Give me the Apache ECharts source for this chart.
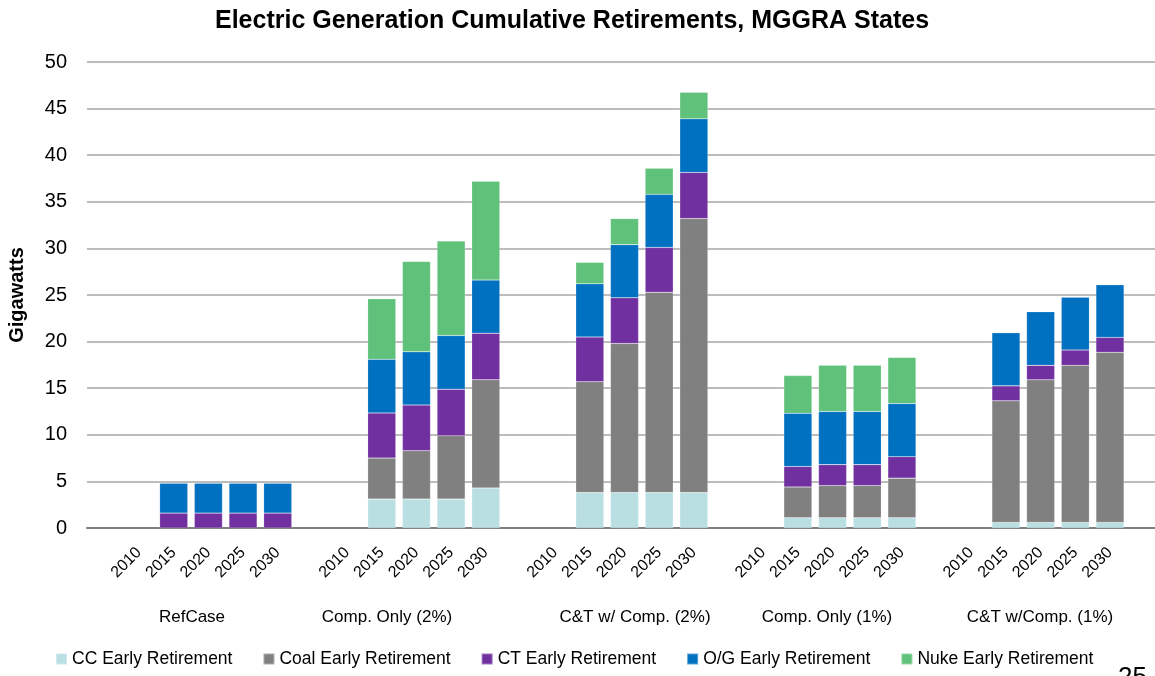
<!DOCTYPE html>
<html>
<head>
<meta charset="utf-8">
<script src="https://cdn.jsdelivr.net/npm/echarts@6/dist/echarts.min.js"></script>
<style>
  html, body { margin: 0; padding: 0; background: #fff; }
  #chart { width: 1155px; height: 676px; }
</style>
</head>
<body>
<div id="chart"></div>
<script>
const years = ['2010', '2015', '2020', '2025', '2030']
const scenarios = ['RefCase', 'Comp. Only (2%)', 'C&T w/ Comp. (2%)', 'Comp. Only (1%)', 'C&T w/Comp. (1%)']
// group label centres (px) as placed on the slide
const scenarioX = [192, 387, 635, 827, 1040]

// values per scenario, years 2010..2030
const cc = [
  [0, 0, 0, 0, 0],
  [0, 3.1, 3.1, 3.1, 4.3],
  [0, 3.8, 3.8, 3.8, 3.8],
  [0, 1.1, 1.1, 1.1, 1.1],
  [0, 0.6, 0.6, 0.6, 0.6],
]
const coal = [
  [0, 0, 0, 0, 0],
  [0, 4.4, 5.2, 6.8, 11.6],
  [0, 11.9, 16.0, 21.5, 29.4],
  [0, 3.3, 3.45, 3.45, 4.25],
  [0, 13.05, 15.3, 16.85, 18.25],
]
const ct = [
  [0, 1.6, 1.6, 1.6, 1.6],
  [0, 4.85, 4.9, 5.0, 5.0],
  [0, 4.8, 4.9, 4.8, 4.95],
  [0, 2.2, 2.25, 2.25, 2.3],
  [0, 1.6, 1.55, 1.65, 1.6],
]
const og = [
  [0, 3.2, 3.2, 3.2, 3.2],
  [0, 5.75, 5.7, 5.75, 5.7],
  [0, 5.7, 5.7, 5.7, 5.75],
  [0, 5.7, 5.7, 5.7, 5.7],
  [0, 5.7, 5.75, 5.65, 5.65],
]
const nuke = [
  [0, 0, 0, 0, 0],
  [0, 6.5, 9.7, 10.15, 10.6],
  [0, 2.3, 2.8, 2.8, 2.85],
  [0, 4.05, 4.95, 4.95, 4.95],
  [0, 0, 0, 0, 0],
]

const seriesDefs = [
  { name: 'CC Early Retirement', values: cc, color: '#b9dfe3' },
  { name: 'Coal Early Retirement', values: coal, color: '#808080' },
  { name: 'CT Early Retirement', values: ct, color: '#7030a0' },
  { name: 'O/G Early Retirement', values: og, color: '#0070c0' },
  { name: 'Nuke Early Retirement', values: nuke, color: '#5fc17a' },
]

// one empty slot before each scenario and one at the end
const categories = []
scenarios.forEach(() => {
  categories.push('')
  years.forEach(y => categories.push(y))
})
categories.push('')

function spread(rows) {
  const out = []
  rows.forEach(row => {
    out.push('-')
    row.forEach(v => out.push(v === 0 ? '-' : v))
  })
  out.push('-')
  return out
}

const font = 'Liberation Sans'
const chart = echarts.init(document.getElementById('chart'))

chart.setOption({
  animation: false,
  textStyle: { fontFamily: font },
  title: {
    text: 'Electric Generation Cumulative Retirements, MGGRA States',
    left: 567,
    textAlign: 'center',
    top: 4,
    textStyle: { fontSize: 25, fontWeight: 'bold', color: '#000', fontFamily: font },
  },
  legend: {
    bottom: 3,
    left: 50,
    itemWidth: 11,
    itemHeight: 11,
    itemGap: 30,
    icon: 'rect',
    textStyle: { fontSize: 17.5, color: '#000', fontFamily: font },
    data: seriesDefs.map(s => s.name),
  },
  grid: { left: 87, top: 62, width: 1075, height: 466, outerBoundsMode: 'none' },
  xAxis: {
    type: 'category',
    data: categories,
    axisTick: { show: false },
    axisLine: { lineStyle: { color: '#808080', width: 2 } },
    axisLabel: {
      interval: 0,
      rotate: 45,
      fontSize: 16,
      color: '#000',
      margin: 22,
      fontFamily: font,
    },
  },
  yAxis: {
    type: 'value',
    min: 0,
    max: 50,
    interval: 5,
    name: 'Gigawatts',
    nameLocation: 'middle',
    nameRotate: 90,
    nameGap: 60,
    nameTextStyle: { fontSize: 20, fontWeight: 'bold', color: '#000', fontFamily: font },
    axisLine: { show: false },
    axisTick: { show: false },
    axisLabel: { fontSize: 20, color: '#000', margin: 20, fontFamily: font },
    splitLine: { lineStyle: { color: '#a6a6a6', width: 1.5 } },
  },
  series: seriesDefs.map(s => ({
    name: s.name,
    type: 'bar',
    stack: 'total',
    barCategoryGap: '19%',
    itemStyle: { color: s.color, borderColor: 'rgba(255,255,255,0.35)', borderWidth: 0.5 },
    data: spread(s.values),
  })),
  graphic: scenarios.map((t, i) => ({
    type: 'text',
    x: scenarioX[i],
    y: 609,
    style: { text: t, fontSize: 17, fill: '#000', align: 'center', fontFamily: font },
  })).concat([{
    type: 'text',
    x: 1118,
    y: 665,
    style: { text: '25', fontSize: 26, fill: '#000', fontFamily: font },
  }]),
})
</script>
</body>
</html>
